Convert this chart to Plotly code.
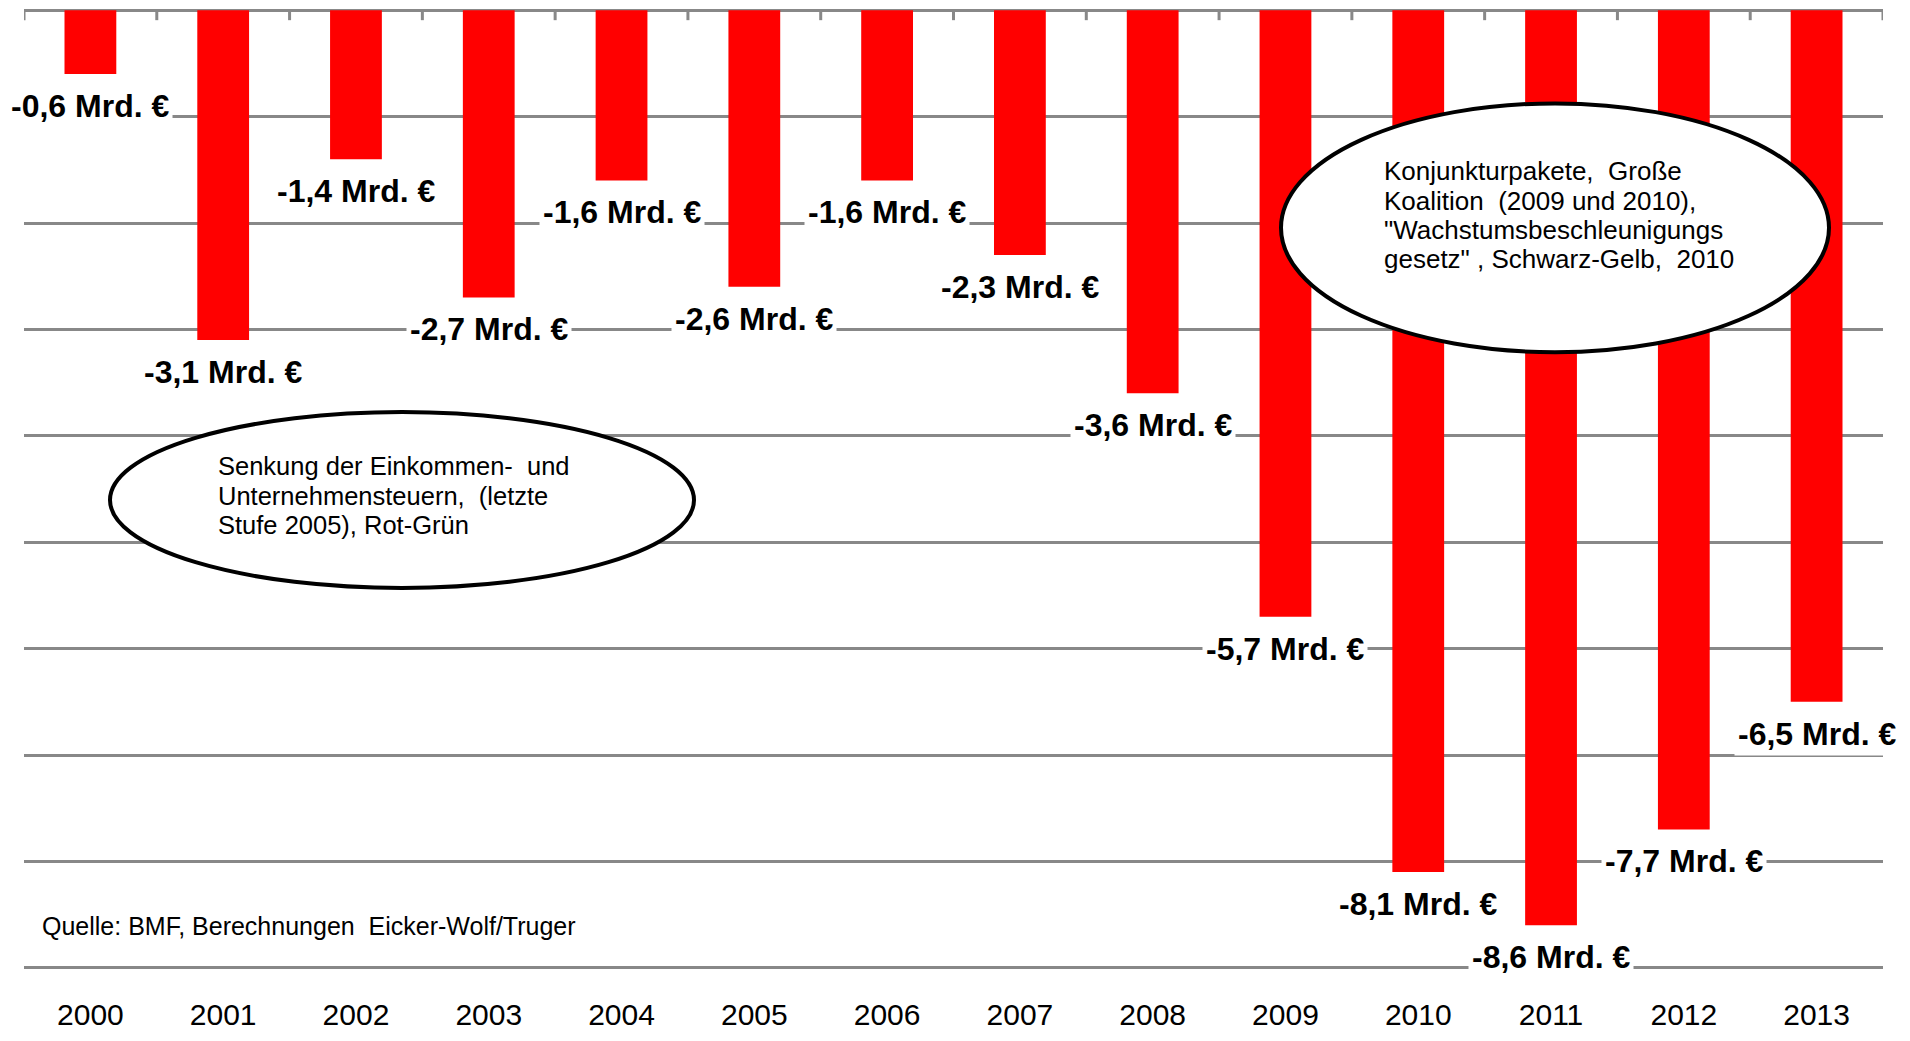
import plotly.graph_objects as go

# ---- data ----
years = ["2000", "2001", "2002", "2003", "2004", "2005", "2006",
         "2007", "2008", "2009", "2010", "2011", "2012", "2013"]
values = [-0.6, -3.1, -1.4, -2.7, -1.6, -2.6, -1.6,
          -2.3, -3.6, -5.7, -8.1, -8.6, -7.7, -6.5]
value_labels = [f"{v:.1f}".replace(".", ",") + " Mrd. €" for v in values]

note_left_lines = ["Senkung der Einkommen-  und",
                   "Unternehmensteuern,  (letzte",
                   "Stufe 2005), Rot-Grün"]
note_right_lines = ["Konjunkturpakete,  Große",
                    "Koalition  (2009 und 2010),",
                    "\"Wachstumsbeschleunigungs",
                    "gesetz\" , Schwarz-Gelb,  2010"]
source_text = "Quelle: BMF, Berechnungen  Eicker-Wolf/Truger"

# ---- layout helpers (pixel -> paper) ----
W, H = 1910, 1041
Y_MIN, Y_MAX, PAD = -9, 0, 0.03
ZERO_PX, UNIT_PX = 9.7, 106.5
PL, PR = 24, 1883
PT = ZERO_PX - PAD * UNIT_PX
PB = ZERO_PX + ((Y_MAX - Y_MIN) + PAD) * UNIT_PX
def px(x):
    return (x - PL) / (PR - PL)
def py(y):
    return (PB - y) / (PB - PT)

FONT = "Liberation Sans, Arial, Helvetica, sans-serif"
GRID = "#888888"
n = len(years)
boundaries = [i - 0.5 for i in range(n + 1)]
TICK_LEN = 10 / UNIT_PX

fig = go.Figure()
fig.add_trace(go.Bar(x=years, y=values, marker=dict(color="#ff0000", line=dict(width=0)),
                     hoverinfo="x+y"))

annotations = []
for i, (v, lab) in enumerate(zip(values, value_labels)):
    annotations.append(dict(x=i, y=v, xref="x", yref="y", text=f"<b>{lab}</b>",
                            showarrow=False, yshift=-32, xanchor="center", yanchor="middle",
                            bgcolor="white", borderpad=3,
                            font=dict(family=FONT, size=32, color="black")))

for k, line in enumerate(note_left_lines):
    annotations.append(dict(x=px(216), y=py(466 + 29.5 * k), xref="paper", yref="paper",
                            text=line, showarrow=False, xanchor="left", yanchor="middle",
                            align="left", font=dict(family=FONT, size=25.5, color="black")))
for k, line in enumerate(note_right_lines):
    annotations.append(dict(x=px(1382), y=py(171 + 29.2 * k), xref="paper", yref="paper",
                            text=line, showarrow=False, xanchor="left", yanchor="middle",
                            align="left", font=dict(family=FONT, size=26, color="black")))
annotations.append(dict(x=px(40), y=py(926), xref="paper", yref="paper", text=source_text,
                        showarrow=False, xanchor="left", yanchor="middle", align="left",
                        font=dict(family=FONT, size=25, color="black")))

shapes = [
    dict(type="line", xref="x", yref="y", x0=b, x1=b, y0=Y_MAX, y1=Y_MAX - TICK_LEN,
         line=dict(color=GRID, width=3), layer="below")
    for b in boundaries
]
shapes += [
    dict(type="circle", xref="paper", yref="paper", x0=px(110), x1=px(694),
         y0=py(588), y1=py(412), fillcolor="white", line=dict(color="black", width=4),
         layer="above"),
    dict(type="circle", xref="paper", yref="paper", x0=px(1281), x1=px(1829),
         y0=py(352), y1=py(103), fillcolor="white", line=dict(color="black", width=4),
         layer="above"),
]

fig.update_layout(
    width=W, height=H,
    margin=dict(l=PL, r=W - PR, t=PT, b=H - PB),
    paper_bgcolor="white", plot_bgcolor="white",
    showlegend=False, bargap=0.61,
    font=dict(family=FONT, color="black"),
    xaxis=dict(type="category", range=[-0.5, n - 0.5], showgrid=False, showline=False,
               zeroline=False, ticks="outside", ticklen=17, tickcolor="rgba(0,0,0,0)",
               automargin=False,
               tickfont=dict(family=FONT, size=30, color="black")),
    yaxis=dict(range=[Y_MIN - PAD, Y_MAX + PAD], dtick=1, tick0=0, showgrid=True,
               gridcolor=GRID, gridwidth=3, automargin=False,
               showticklabels=False, zeroline=False, showline=False, ticks=""),
    annotations=annotations,
    shapes=shapes,
)

fig.write_html("out.html", config={"displayModeBar": False},
               post_script="document.body.style.margin='0';document.body.style.padding='0';")
